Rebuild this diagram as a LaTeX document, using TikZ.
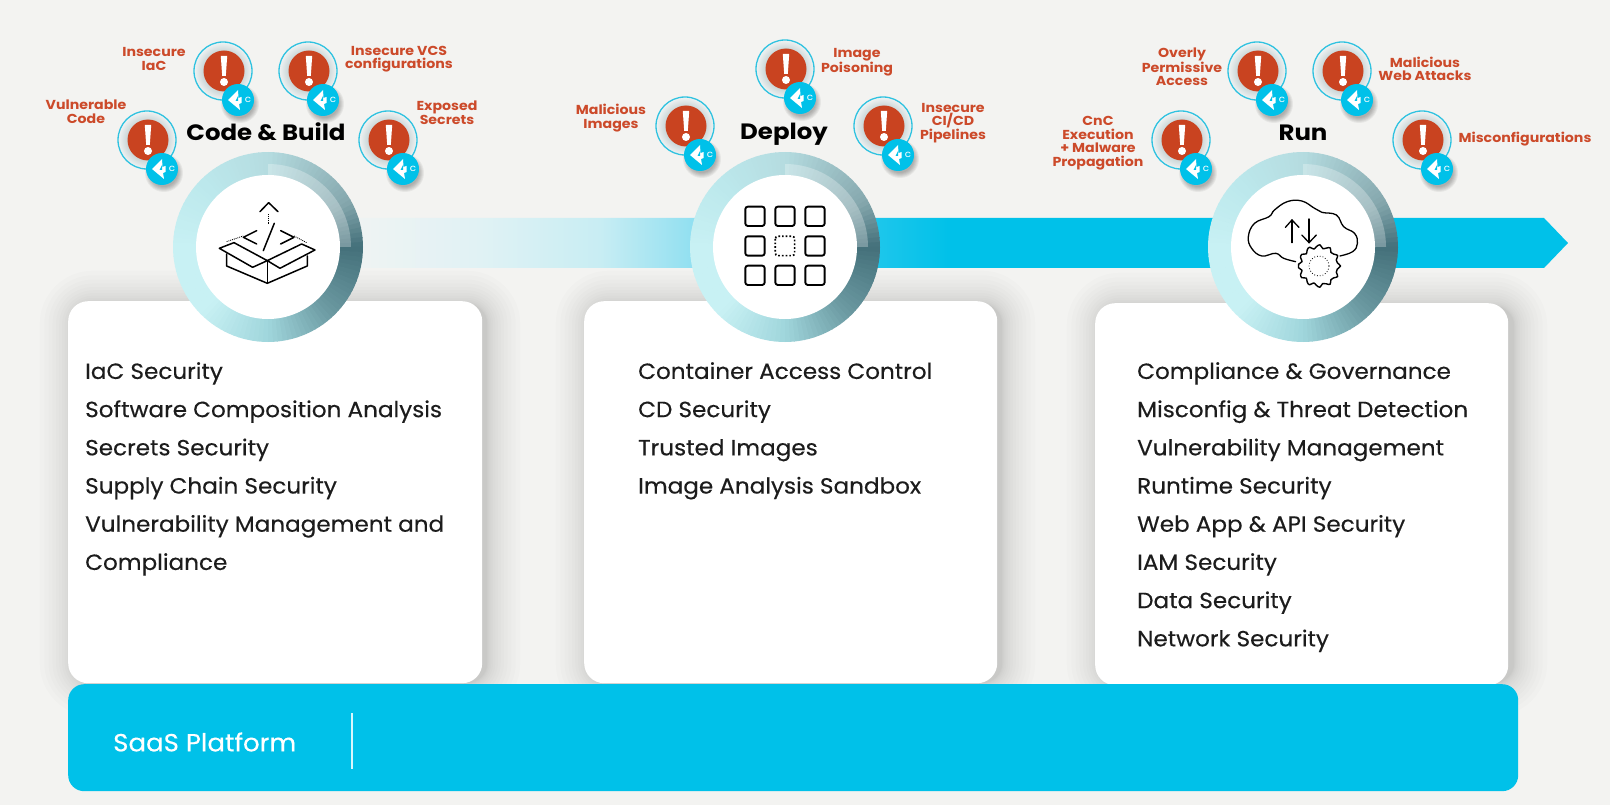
\documentclass[tikz,border=0pt]{standalone}
\usepackage{fontspec}
\setmainfont{Poppins}
\newfontfamily\bodyfont[FakeStretch=1.05,FakeBold=0.3]{Poppins}
\newfontfamily\labelfont[FakeStretch=1.09]{Poppins}
\newfontfamily\stagefont[FakeStretch=1.1]{Poppins}
\usetikzlibrary{calc}
\definecolor{pagebg}{HTML}{F3F3F1}
\definecolor{cyanbar}{HTML}{00C1E9}
\definecolor{alertred}{HTML}{C94320}
\definecolor{labelred}{HTML}{CC4A2A}
\definecolor{ringline}{HTML}{2FC2E0}
\definecolor{haloA}{HTML}{C4D2D3}
\definecolor{haloB}{HTML}{F1F3F3}
\definecolor{rA}{HTML}{B5DCE0}
\definecolor{rB}{HTML}{86A8AE}
\definecolor{rC}{HTML}{44707A}
\definecolor{rD}{HTML}{6A98A0}
\definecolor{rE}{HTML}{A0D6DC}
\definecolor{rF}{HTML}{C8F1F4}
\definecolor{rG}{HTML}{BCE8EC}
\definecolor{inktext}{HTML}{1C1C1C}
\definecolor{bandA}{HTML}{F0F3F3}
\definecolor{bandB}{HTML}{E0F2F4}
\definecolor{bandC}{HTML}{C8EDF3}
\definecolor{bandD}{HTML}{93E0F1}
\definecolor{bandE}{HTML}{5CD5EE}
\definecolor{bandF}{HTML}{1CC6EB}
\pgfdeclarehorizontalshading{bandfade}{100bp}{color(0bp)=(bandA);color(25bp)=(bandA);color(30.35bp)=(bandB);color(35.25bp)=(bandC);color(38.95bp)=(bandD);color(43bp)=(bandE);color(46.75bp)=(bandF);color(49.65bp)=(cyanbar);color(100bp)=(cyanbar)}
\pgfdeclareradialshading{halo}{\pgfpoint{0bp}{0bp}}{color(0bp)=(haloA);color(16bp)=(haloA);color(25bp)=(haloB);color(100bp)=(haloB)}
\tikzset{
  cardbox/.style={draw=none,fill=white,rounded corners=20pt},
  threatlabel/.style={text=labelred,align=center,font=\labelfont\bfseries\fontsize{13}{13.6}\selectfont,inner sep=0pt},
  stagelabel/.style={text=black,anchor=base,font=\stagefont\bfseries\fontsize{22.2}{24}\selectfont,inner sep=0pt},
  listtext/.style={text=inktext,align=left,anchor=north west,inner sep=0pt,font=\bodyfont\fontsize{22}{38.2}\selectfont},
  iconline/.style={draw=black,line width=1.5pt,line join=round,line cap=round},
  gridline/.style={draw=black,line width=1.9pt,line join=round},
  icondots/.style={draw=black,line width=0.9pt,densely dotted},
}
% threat marker: name, x, y
\newcommand{\threatmark}[3]{%
  \begin{scope}[shift={(#2,#3)}]
    \shade[shading=halo] (0,0) circle[radius=29];
    \draw[ringline,line width=1.3pt] (0,0) circle[radius=29];
    \node[circle,fill=alertred,minimum size=41pt,inner sep=0pt] (#1) at (1,0) {};
    \fill[white] (-2.2,-15) -- (4.2,-15) -- (2.8,5) -- (-0.8,5) -- cycle;
    \fill[white] (1,11) circle[radius=4];
    \foreach \k in {1,...,6}{\fill[black,fill opacity=0.05] (17,33) circle[radius=13+\k];}
    \node[circle,fill=cyanbar,minimum size=32pt,inner sep=0pt] (#1badge) at (15,29) {};
    \fill[white] (15-10,29) -- (15,29-10) -- (15.5,29-2) -- (18.5,29-3) -- (18.5,29+3) -- (16,29+4) -- (17,29+10) -- cycle;
    \fill[cyanbar] (15-2.5,29+1) -- (15,29-4) -- (15,29+1) -- cycle;
    \node[text=white,inner sep=0pt,font=\labelfont\fontsize{9.5}{9.5}\selectfont] at (15+10,29-0.5) {c};
  \end{scope}}
% hub ring: name, x, y
\newcommand{\hubring}[3]{%
  \begin{scope}[shift={(#2,#3)},y=1pt]
    \foreach \sa/\sb/\ca/\cb in {0/60/rA/rB,60/90/rB/rC,90/135/rC/rD,135/180/rD/rE,180/225/rE/rF,225/270/rF/rF,270/315/rF/rG,315/360/rG/rA}{
      \pgfmathsetmacro{\stepn}{int((\sb-\sa)/3)}
      \foreach \i in {1,...,\stepn}{
        \pgfmathsetmacro{\ang}{90-\sa-3*(\i-1)}
        \pgfmathsetmacro{\angb}{\ang-3.4}
        \pgfmathsetmacro{\mixp}{100*(\i-0.5)/\stepn}
        \colorlet{rc}{\cb!\mixp!\ca}
        \fill[rc] (\ang:95pt) arc[start angle=\ang,end angle=\angb,radius=95pt] -- (\angb:70pt) arc[start angle=\angb,end angle=\ang,radius=70pt] -- cycle;
      }
    }
    \fill[white,fill opacity=0.28] (0,0) -- (90:83pt) arc[start angle=90,end angle=0,radius=83pt] -- cycle;
    \node[circle,fill=white,minimum size=144pt,inner sep=0pt] (#1) at (0,0) {};
  \end{scope}}
\begin{document}
\begin{tikzpicture}[x=1pt,y=-1pt]
\useasboundingbox (0,0) rectangle (1610,805);
\fill[pagebg] (0,0) rectangle (1610,805);
% card shadows
\foreach \bx/\ex/\ty in {68/482/301,584/997/301,1095/1509/303}{
  \foreach \k in {1,...,14}{
    \pgfmathsetmacro{\gr}{0.17*\k*\k}
    \fill[black,fill opacity=0.012,rounded corners=20pt+\gr pt] (\bx-\gr+5,\ty-\gr+3) rectangle (\ex+\gr+5,683+\gr);
  }
}
% arrow band
\shade[shading=bandfade] (350,218) -- (1544,218) -- (1568,243) -- (1544,268) -- (350,268) -- cycle;
% cards
\node[cardbox,minimum width=414pt,minimum height=382pt,anchor=north west,inner sep=0pt] (cardCode) at (68,301) {};
\node[cardbox,minimum width=413pt,minimum height=382pt,anchor=north west,inner sep=0pt] (cardDeploy) at (584,301) {};
\node[cardbox,minimum width=413pt,minimum height=382pt,anchor=north west,inner sep=0pt] (cardRun) at (1095,303) {};
% platform bar
\node[draw=none,fill=cyanbar,rounded corners=16pt,minimum width=1450pt,minimum height=107pt,anchor=north west,inner sep=0pt] (platform) at (68,684) {};
\node[text=white,anchor=west,inner sep=0pt,font=\bodyfont\fontsize{24.8}{26}\selectfont] (platformname) at (113,742) {SaaS Platform};
\coordinate (divtop) at (352,713);
\coordinate (divbot) at (352,769);
\draw[white!85!cyanbar,line width=1.3pt] (divtop) -- (divbot);
% hubs
\hubring{hubCode}{268}{247}
\hubring{hubDeploy}{785}{247}
\hubring{hubRun}{1303}{247}
% stage labels
\node[stagelabel] (stCode) at (266,141) {Code \& Build};
\node[stagelabel] (stDeploy) at (784,140) {Deploy};
\node[stagelabel] (stRun) at (1303,141) {Run};
% threats
\threatmark{tA}{147}{140}
\threatmark{tB}{223}{71}
\threatmark{tC}{308}{71}
\threatmark{tD}{388}{140}
\threatmark{tE}{685}{126}
\threatmark{tF}{785}{69}
\threatmark{tG}{883}{126}
\threatmark{tH}{1181}{140}
\threatmark{tI}{1257}{71}
\threatmark{tJ}{1342}{71}
\threatmark{tK}{1422}{140}
\node[threatlabel] (lA) at (86,112) {Vulnerable\\Code};
\node[threatlabel] (lB) at (154,59) {Insecure\\IaC};
\node[threatlabel] (lC) at (399,59) {Insecure VCS\\configurations};
\node[threatlabel] (lD) at (447,113) {Exposed\\Secrets};
\node[threatlabel] (lE) at (611,118) {Malicious\\Images};
\node[threatlabel] (lF) at (857,62) {Image\\Poisoning};
\node[threatlabel] (lG) at (953,123) {Insecure\\CI/CD\\Pipelines};
\node[threatlabel] (lH) at (1098,143) {CnC\\Execution\\+ Malware\\Propagation};
\node[threatlabel] (lI) at (1182,67) {Overly\\Permissive\\Access};
\node[threatlabel] (lJ) at (1425,69) {Malicious\\Web Attacks};
\node[threatlabel] (lK) at (1525,139) {Misconfigurations};
% lists
\node[listtext] (listCode) at (85,362) {IaC Security\\Software Composition Analysis\\Secrets Security\\Supply Chain Security\\Vulnerability Management and\\Compliance};
\node[listtext] (listDeploy) at (638,362) {Container Access Control\\CD Security\\Trusted Images\\Image Analysis Sandbox};
\node[listtext] (listRun) at (1137,362) {Compliance \& Governance\\Misconfig \& Threat Detection\\Vulnerability Management\\Runtime Security\\Web App \& API Security\\IAM Security\\Data Security\\Network Security};
% code icon
\begin{scope}[shift={(30,20)},x=0.3333pt,y=-0.3333pt]
  \draw[iconline] (690,575) -- (716,548) -- (744,575);
  \draw[icondots] (716,582) -- (716,615);
  \draw[iconline] (733,610) -- (700,692);
  \draw[iconline] (680,632) -- (640,652) -- (680,672);
  \draw[iconline] (752,632) -- (792,652) -- (752,672);
  \draw[icondots] (590,665) -- (640,648);
  \draw[icondots] (792,648) -- (830,668);
  \draw[iconline] (568,685) -- (612,668) -- (712,722) -- (668,742) -- cycle;
  \draw[iconline] (712,722) -- (815,672) -- (855,690) -- (750,745) -- cycle;
  \draw[iconline] (590,702) -- (590,738) -- (712,790) -- (832,738) -- (832,708);
  \draw[iconline] (712,722) -- (712,790);
\end{scope}
% deploy icon
\begin{scope}[shift={(560,20)},x=0.3333pt,y=-0.3333pt]
  \foreach \cx in {585,675,765}{\foreach \cy in {589,678,766}{
    \ifnum\cx=675 \ifnum\cy=678 \else
      \draw[gridline,rounded corners=2.5pt] (\cx-29,\cy-29) rectangle (\cx+29,\cy+29);
    \fi \else
      \draw[gridline,rounded corners=2.5pt] (\cx-29,\cy-29) rectangle (\cx+29,\cy+29);
    \fi
  }}
  \draw[draw=black,line width=1.7pt,dotted,rounded corners=2.5pt] (646,649) rectangle (704,707);
\end{scope}
% run icon
\begin{scope}[shift={(1040,20)},x=0.3636pt,y=-0.3333pt]
  \draw[draw=black,line width=1.3pt,line cap=round] plot[smooth,tension=0.7] coordinates {(703,725) (670,715) (648,700) (610,708) (582,685) (573,650) (590,610) (630,590) (645,570) (680,545) (720,543) (755,565) (775,577) (815,585) (835,620) (865,640) (873,670) (860,695) (825,708)};
  \draw[draw=black,line width=1.3pt,line cap=round] (693,668) -- (693,600);
  \draw[draw=black,line width=1.3pt,line cap=round] (675,622) -- (693,600) -- (712,622);
  \draw[draw=black,line width=1.3pt,line cap=round] (740,597) -- (740,668);
  \draw[draw=black,line width=1.3pt,line cap=round] (720,645) -- (740,668) -- (760,645);
\end{scope}
\begin{scope}[shift={(1319,266)},y=1pt]
  \draw[draw=black,line width=1.4pt,fill=white,line join=round] plot[smooth cycle,tension=0.6,samples=37,domain=0:350,variable=\q] ({\q}:{19.5pt+2pt*cos(12*\q)});
  \draw[draw=black,line width=0.8pt,dotted] (0,0) circle[radius=10pt];
\end{scope}
\end{tikzpicture}
\end{document}
